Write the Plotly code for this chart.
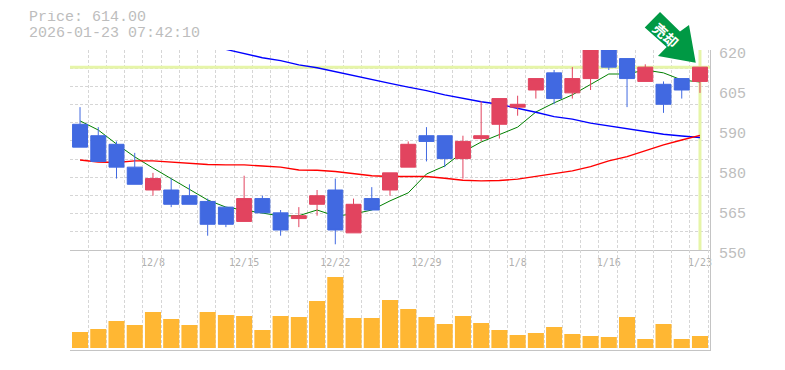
import plotly.graph_objects as go

dates = ["12/2","12/3","12/4","12/5","12/8","12/9","12/10","12/11","12/12","12/15","12/16","12/17","12/18","12/19","12/22","12/23","12/24","12/25","12/26","12/29","12/30","1/5","1/6","1/7","1/8","1/9","1/13","1/14","1/15","1/16","1/19","1/20","1/21","1/22","1/23"]
opens = [594,590,587,579,571,571,569,567,565,560,568,563,561,566,571,556,568,571,579,590,590,582,589,594,600,606,612,605,610,620,617,609,608,610,609]
closes = [586,581,579,573,575,566,566,559,559,568,563,557,562,569,557,566,564,577,587,588,582,588,590,603,601,610,603,610,620,614,610,614,601,606,614]
highs = [600,593,588,584,577,575,573,568,565,576,569,564,565,571,575,568,572,577,588,593,590,590,602,603,604,610,613,614,620,620,617,615,609,610,614]
lows = [586,581,575,573,569,565,566,555,558,560,563,555,558,562,552,556,564,569,579,581,579,575,588,589,597,603,601,603,606,613,600,609,598,603,605]
ma_short = [595.2,592,587.1,582.6,578.7,574.9,571.4,567.5,565,564,562.9,561.9,562,564,561.9,562.6,564,567.2,570,576.6,579.4,584.3,587.8,590.3,593,598.3,601.5,604.3,608.1,611.6,611.6,613,612,609.5,608.8]
ma_mid = [581.5,580.8,580.6,581.2,581.2,580.8,580.5,579.9,579.8,579.8,579.4,579,578,577.9,577.5,576.8,576,575.7,575.7,575.7,575.1,574.4,574.2,574.3,574.8,575.7,576.6,577.7,579.2,581.2,582.7,584.8,586.8,588.5,590.1]
ma_long = [None]*8 + [620.2,618.8,617.3,616.3,614.8,613.8,612.4,610.9,609.7,608.3,607,605.8,604.3,603.1,601.9,601,599.7,598.2,596.7,595.8,594.4,593.4,592.6,591.4,590.5,589.9,589.4]
volumes = [16,19,27,23,36,29,23,36,33,32,18,32,31,47,71,30,30,48,39,31,24,32,25,18,13,15,21,14,12,11,31,9,24,9,12]
price_ticks = [620,606,592,578,564,550]
price_labels = ["620","605","590","580","565","550"]
date_ticks = ["12/8","12/15","12/22","12/29","1/8","1/16","1/23"]
last_price = 614.00
timestamp = "2026-01-23 07:42:10"
badge_text = "売却"

GRID = "#d6d6d6"; FRAME = "#c4c4c4"; TEXT = "#bdbdbd"; HILITE = "#e6f5a8"; BADGE = "#009944"
MONO = "Liberation Mono"
xs = list(range(len(dates)))
xrange_ = [-0.55, 34.55]
y0, y1 = 550, 620
xgrid = [-0.55 + k for k in range(36)]
ygrid = [y0 + (y1 - y0) * k / 11 for k in range(12)]
DASH = "3px,2px"

def px(x, y):
    return (x - 70) / 640, (350 - y) / 300

arrow_outline = [(660,12),(644.7,27.5),(666.7,47),(658,56),(695.7,62.7),(689,25),(680,31.5)]
arrow_path = "M " + " L ".join("%.4f,%.4f" % px(a, b) for a, b in arrow_outline) + " Z"

fig = go.Figure()
fig.add_trace(go.Scatter(x=xrange_, y=[last_price]*2, mode="lines", line=dict(color=HILITE, width=3), xaxis="x", yaxis="y", hoverinfo="skip"))
fig.add_trace(go.Scatter(x=[xs[-1]]*2, y=[y0, y1], mode="lines", line=dict(color=HILITE, width=3), xaxis="x", yaxis="y", hoverinfo="skip"))
fig.add_trace(go.Scatter(x=xs, y=ma_short, mode="lines", line=dict(color="#008000", width=1), xaxis="x", yaxis="y"))
fig.add_trace(go.Scatter(x=xs, y=ma_long, mode="lines", line=dict(color="#0000ff", width=1.4), xaxis="x", yaxis="y"))
fig.add_trace(go.Scatter(x=xs, y=ma_mid, mode="lines", line=dict(color="#ff0000", width=1.4), xaxis="x", yaxis="y"))
fig.add_trace(go.Candlestick(x=xs, open=opens, high=highs, low=lows, close=closes,
    increasing=dict(line=dict(color="#e2445f", width=1), fillcolor="#e2445f"),
    decreasing=dict(line=dict(color="#4169e1", width=1), fillcolor="#4169e1"),
    whiskerwidth=0, xaxis="x", yaxis="y3"))
fig.add_trace(go.Bar(x=xs, y=volumes, marker=dict(color="#ffb733", line=dict(width=0)), width=0.88, xaxis="x2", yaxis="y2"))

def minor_x():
    return dict(tickvals=xgrid, showgrid=True, griddash=DASH, gridcolor=GRID, gridwidth=1, ticklen=0)

bx, by = px(666, 35)
tx, ty1 = px(29, 18)
_, ty2 = px(29, 33)
fig.update_layout(
    width=785, height=370, autosize=False, showlegend=False,
    margin=dict(l=70, r=75, t=50, b=20, autoexpand=False), paper_bgcolor="white", plot_bgcolor="white",
    boxgap=0.18, boxgroupgap=0,
    xaxis=dict(domain=[0, 1], range=xrange_, anchor="y", tickmode="array", automargin=False,
               tickvals=[xs[dates.index(d)] for d in date_ticks], ticktext=date_ticks,
               tickfont=dict(family="DejaVu Sans Mono", size=10, color="#b0b0b0"), ticklen=0, ticklabelstandoff=3, showgrid=False,
               showline=True, linecolor=FRAME, linewidth=1, zeroline=False,
               rangeslider=dict(visible=False), minor=minor_x()),
    xaxis2=dict(domain=[0, 1], range=xrange_, anchor="y2", showticklabels=False, ticklen=0, automargin=False,
                showgrid=False, showline=True, linecolor=FRAME, linewidth=1, zeroline=False,
                minor=minor_x()),
    yaxis=dict(domain=[1/3, 1], range=[y0, y1], anchor="x", side="right", tickmode="array", automargin=False,
               tickvals=price_ticks, ticktext=price_labels, ticklen=0, ticklabelshift=3,
               ticklabelstandoff=5, tickfont=dict(family=MONO, size=15, color=TEXT), showgrid=False,
               showline=True, linecolor=FRAME, linewidth=1, zeroline=False,
               minor=dict(tickvals=ygrid, showgrid=True, griddash=DASH, gridcolor=GRID, gridwidth=1, ticklen=0)),
    yaxis2=dict(domain=[0, 1/3], range=[-2, 98], anchor="x2", side="right", showticklabels=False, automargin=False,
                ticklen=0, showgrid=False, showline=True, linecolor=FRAME, linewidth=1, zeroline=False),
    yaxis3=dict(domain=[1/3, 1], range=[y0, y1], anchor="x", overlaying="y", side="right", visible=False, automargin=False),
    shapes=[dict(type="path", xref="paper", yref="paper", path=arrow_path, fillcolor=BADGE, line=dict(width=0), layer="above")],
    annotations=[
        dict(text=f"Price: {last_price:.2f}", xref="paper", yref="paper", x=tx, y=ty1, xanchor="left", yanchor="middle", showarrow=False, borderpad=0, borderwidth=0, height=13, font=dict(family=MONO, size=15, color=TEXT)),
        dict(text=timestamp, xref="paper", yref="paper", x=tx, y=ty2, xanchor="left", yanchor="middle", showarrow=False, borderpad=0, borderwidth=0, height=13, font=dict(family=MONO, size=15, color=TEXT)),
        dict(text=f"<b>{badge_text}</b>", xref="paper", yref="paper", x=bx, y=by, xanchor="center", yanchor="middle", showarrow=False, textangle=42, font=dict(family="Noto Sans CJK JP", size=14, color="white")),
    ],
    font=dict(family=MONO),
)
fig.write_html("out.html", config=dict(displayModeBar=False), post_script="document.body.style.margin='0';")
